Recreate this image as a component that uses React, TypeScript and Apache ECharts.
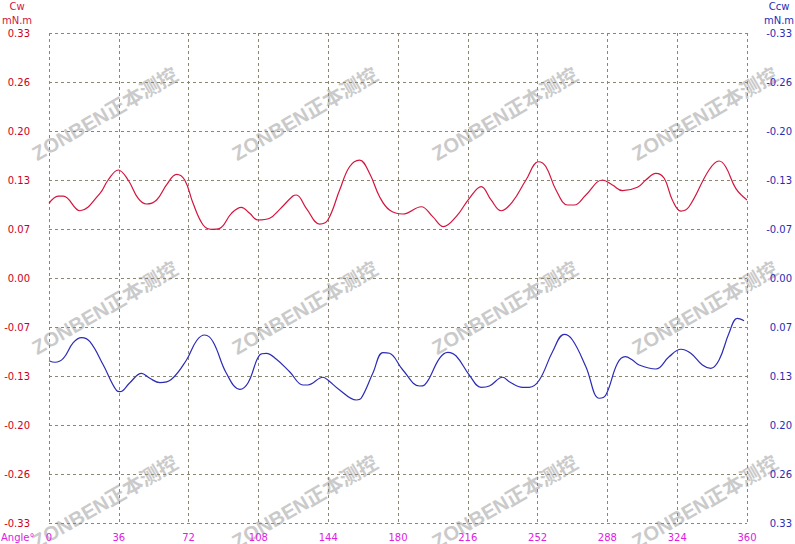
import React, { useEffect, useRef } from "react";
import * as echarts from "echarts";

// Cw curve (left axis, mN.m) — angle in degrees
const cwAngles = [0, 4.8, 7.4, 16.0, 26.3, 30.5, 35.7, 40.8, 46.0, 50.3, 55.5, 60.6, 65.8, 70.0, 74.3, 79.5, 83.8, 88.1, 94.1, 99.2, 103.5, 107.8, 113.8, 119.0, 125.8, 127.6, 132.7, 139.6, 143.8, 149.9, 155.0, 160.2, 165.3, 170.5, 175.6, 182.5, 192.0, 197.9, 203.4, 210.0, 216.8, 222.9, 228.0, 233.2, 239.1, 246.0, 252.5, 256.3, 261.5, 267.5, 270.9, 276.9, 285.5, 290.6, 295.8, 303.5, 307.8, 313.0, 317.3, 321.5, 325.9, 330.1, 340.4, 345.6, 349.0, 354.2, 360];
const cwValues = [0.1006, 0.1104, 0.1104, 0.0906, 0.1141, 0.132, 0.1455, 0.132, 0.1073, 0.0997, 0.1051, 0.1253, 0.1397, 0.132, 0.1006, 0.0714, 0.0656, 0.0669, 0.0871, 0.0952, 0.0871, 0.0781, 0.0804, 0.0925, 0.1104, 0.1118, 0.0939, 0.0727, 0.0781, 0.1185, 0.1499, 0.1589, 0.141, 0.1095, 0.0916, 0.0862, 0.096, 0.0826, 0.0691, 0.0826, 0.1073, 0.123, 0.1051, 0.0906, 0.1028, 0.132, 0.1566, 0.1499, 0.1185, 0.0983, 0.0983, 0.1118, 0.132, 0.1253, 0.1176, 0.1222, 0.132, 0.141, 0.1343, 0.1051, 0.0902, 0.096, 0.1455, 0.1576, 0.1499, 0.1208, 0.1051];

// Ccw curve (right axis, inverted, mN.m)
const ccwAngles = [0, 3.1, 7.4, 12.5, 16.8, 21.1, 28.0, 34.9, 36.6, 41.7, 47.7, 52.0, 57.2, 63.2, 70.9, 76.1, 80.3, 84.6, 91.5, 98.4, 102.7, 108.7, 112.1, 117.3, 124.1, 131.0, 133.5, 141.3, 143.8, 149.9, 158.5, 161.0, 167.0, 172.2, 175.6, 182.5, 191.1, 193.7, 201.4, 205.7, 210.0, 216.8, 222.9, 227.1, 234.0, 237.4, 244.3, 247.7, 252.9, 259.7, 265.7, 270.0, 276.9, 283.8, 287.2, 293.2, 297.2, 300.9, 304.4, 313.0, 319.8, 325.9, 331.0, 337.0, 341.3, 345.6, 350.7, 355.0, 358.5];
const ccwValues = [0.1114, 0.1135, 0.1082, 0.0871, 0.0804, 0.0858, 0.1172, 0.1518, 0.1531, 0.141, 0.1284, 0.1351, 0.141, 0.1364, 0.1104, 0.0845, 0.0768, 0.0858, 0.1284, 0.1499, 0.141, 0.1037, 0.1014, 0.1095, 0.1262, 0.1441, 0.1441, 0.1337, 0.1374, 0.1509, 0.1643, 0.162, 0.1284, 0.1006, 0.1014, 0.1239, 0.1455, 0.1441, 0.1082, 0.1001, 0.1051, 0.1307, 0.1472, 0.1455, 0.1337, 0.1397, 0.1472, 0.1472, 0.1374, 0.0993, 0.0758, 0.0835, 0.1195, 0.162, 0.1576, 0.1149, 0.106, 0.1104, 0.1172, 0.1226, 0.106, 0.096, 0.1014, 0.1172, 0.1216, 0.1104, 0.0745, 0.0543, 0.0575];

const watermarkText = "ZONBEN正本测控";
const watermarkCols = [105, 305, 505, 705];
const watermarkRows = [114, 308, 502];

const RED = "#d4143c";
const BLUE = "#2b2bb5";
const MAGENTA = "#e020e0";
const GRID = "#8a8670";
const FONT = '"DejaVu Sans", sans-serif';

const fmt = (v: number) => {
  const s = v.toFixed(2);
  return s === "-0.00" ? "0.00" : s;
};

export default function App() {
  const ref = useRef<HTMLDivElement>(null);
  useEffect(() => {
    if (!ref.current) return;
    const chart = echarts.init(ref.current, null, { renderer: "svg" });
    const watermarks: any[] = [];
    watermarkRows.forEach((y) =>
      watermarkCols.forEach((x) =>
        watermarks.push({
          type: "text",
          x,
          y,
          rotation: Math.PI / 6,
          z: -10,
          silent: true,
          style: {
            text: watermarkText,
            fill: "#cacaca",
            font: 'bold 20px "Liberation Sans", "Noto Sans CJK SC", sans-serif',
            textAlign: "center",
            textVerticalAlign: "middle",
          },
        })
      )
    );
    const label = (text: string, x: number, y: number, color: string, align = "center") => ({
      type: "text",
      x,
      y,
      silent: true,
      style: {
        text,
        fill: color,
        font: `10px ${FONT}`,
        textAlign: align,
        textVerticalAlign: "middle",
      },
    });
    const splitLine = { show: true, lineStyle: { color: GRID, type: [3, 3], width: 1 } };
    chart.setOption({
      animation: false,
      backgroundColor: "#ffffff",
      grid: { left: 49, right: 47, top: 33, bottom: 21, containLabel: false },
      graphic: [
        ...watermarks,
        label("Cw", 17, 6, RED),
        label("mN.m", 17, 20, RED),
        label("Ccw", 779, 6, BLUE),
        label("mN.m", 779, 20, BLUE),
        label("Angle°", 1, 537, MAGENTA, "left"),
      ],
      xAxis: {
        type: "value",
        min: 0,
        max: 360,
        interval: 36,
        axisLine: { show: false },
        axisTick: { show: false },
        splitLine,
        axisLabel: { color: MAGENTA, fontSize: 10, fontFamily: FONT, margin: 9 },
      },
      yAxis: [
        {
          type: "value",
          position: "left",
          min: -0.33,
          max: 0.33,
          interval: 0.066,
          axisLine: { show: false },
          axisTick: { show: false },
          splitLine,
          axisLabel: { color: "#cc0020", fontSize: 10, fontFamily: FONT, margin: 19, formatter: fmt },
        },
        {
          type: "value",
          position: "right",
          inverse: true,
          min: -0.33,
          max: 0.33,
          interval: 0.066,
          axisLine: { show: false },
          axisTick: { show: false },
          splitLine: { show: false },
          axisLabel: { color: BLUE, fontSize: 10, fontFamily: FONT, margin: 45, align: "right", formatter: fmt },
        },
      ],
      series: [
        {
          type: "line",
          name: "Cw",
          yAxisIndex: 0,
          data: cwAngles.map((a, i) => [a, cwValues[i]]),
          smooth: 0.4,
          showSymbol: false,
          lineStyle: { color: RED, width: 1.2 },
          z: 3,
        },
        {
          type: "line",
          name: "Ccw",
          yAxisIndex: 1,
          data: ccwAngles.map((a, i) => [a, ccwValues[i]]),
          smooth: 0.4,
          showSymbol: false,
          lineStyle: { color: BLUE, width: 1.2 },
          z: 3,
        },
      ],
    });
    return () => chart.dispose();
  }, []);
  return (
    <div
      ref={ref}
      style={{ position: "fixed", left: 0, top: 0, width: 795, height: 544, background: "#fff" }}
    />
  );
}
